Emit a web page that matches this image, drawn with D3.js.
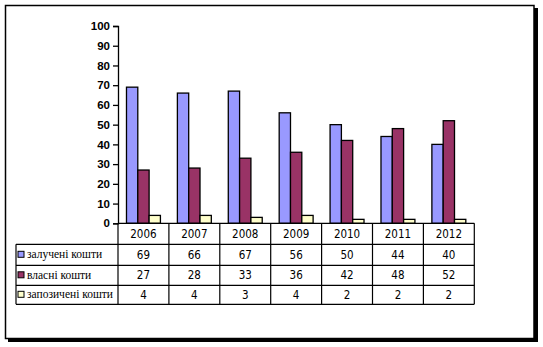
<!DOCTYPE html>
<html><head><meta charset="utf-8">
<script src="https://cdn.jsdelivr.net/npm/d3@7"></script>
<style>body{margin:0;background:#fff}svg{display:block}</style>
</head><body>
<script>
const years = ["2006","2007","2008","2009","2010","2011","2012"];
const seriesNames = ["залучені кошти","власні кошти","запозичені кошти"];
const zaluchen = [69,66,67,56,50,44,40];
const vlasni = [27,28,33,36,42,48,52];
const zapozych = [4,4,3,4,2,2,2];
const yTicks = [0,10,20,30,40,50,60,70,80,90,100];
const colors = ["#9999FF","#993366","#FFFFCC"];
const series = [zaluchen, vlasni, zapozych];

const W = 543, H = 347;
const svg = d3.select("body").append("svg").attr("width", W).attr("height", H);

// frame with shadow
svg.append("rect").attr("x", 8).attr("y", 8).attr("width", 530).attr("height", 334).attr("fill", "#000");
svg.append("rect").attr("x", 5.5).attr("y", 5.5).attr("width", 528.5).attr("height", 333).attr("fill", "#fff")
  .attr("stroke", "#000").attr("stroke-width", 1.5);

const x0 = 118, x1 = 474.3, yTop = 26, yBot = 223.3;
const x = d3.scaleBand().domain(years).range([x0, x1]).paddingInner(0).paddingOuter(0);
const y = d3.scaleLinear().domain([0, 100]).range([yBot, yTop]);
const bw = x.bandwidth() / 4.5;
const xs = d3.scaleBand().domain(d3.range(3)).range([0, bw * 3]);

const g = svg.append("g");
series.forEach((vals, si) => {
  g.selectAll(null).data(vals).enter().append("rect")
    .attr("x", (d, i) => x(years[i]) + bw * 0.75 + xs(si))
    .attr("y", d => y(d))
    .attr("width", xs.bandwidth())
    .attr("height", d => y(0) - y(d))
    .attr("fill", colors[si]).attr("stroke", "#000").attr("stroke-width", 1.3);
});

// y axis
const yAxis = d3.axisLeft(y).tickValues(yTicks).tickSize(5).tickPadding(3);
const ya = svg.append("g").attr("transform", `translate(${x0},0)`).call(yAxis);
ya.select(".domain").attr("stroke", "#000").attr("stroke-width", 1.3);
ya.selectAll(".tick line").attr("stroke", "#000").attr("stroke-width", 1.3);
ya.selectAll("text").attr("font-family", "'Liberation Sans', Arial, sans-serif")
  .attr("font-weight", "bold").attr("font-size", 11.5).attr("fill", "#000");

// data table
const rowsY = [223.3, 244.3, 265.3, 285.3, 304.3];
const tLeft = 16;
const tb = svg.append("g").attr("stroke", "#000").attr("stroke-width", 1.2);
tb.append("line").attr("x1", x0).attr("x2", x1).attr("y1", rowsY[0]).attr("y2", rowsY[0]);
for (let r = 1; r < rowsY.length; r++) {
  tb.append("line").attr("x1", tLeft).attr("x2", x1).attr("y1", rowsY[r]).attr("y2", rowsY[r]);
}
tb.append("line").attr("x1", tLeft).attr("x2", tLeft).attr("y1", rowsY[1]).attr("y2", rowsY[4]);
years.forEach(yr => {
  tb.append("line").attr("x1", x(yr)).attr("x2", x(yr)).attr("y1", rowsY[0]).attr("y2", rowsY[4]);
});
tb.append("line").attr("x1", x1).attr("x2", x1).attr("y1", rowsY[0]).attr("y2", rowsY[4]);

const numFont = "'Liberation Sans Narrow', 'DejaVu Sans Condensed', Arial, sans-serif";
svg.selectAll(null).data(years).enter().append("text")
  .attr("x", d => x(d) + x.bandwidth() / 2).attr("y", (rowsY[0] + rowsY[1]) / 2 + 4)
  .attr("text-anchor", "middle").attr("font-family", numFont).attr("font-size", 11.5)
  .text(d => d);
series.forEach((vals, si) => {
  const cy = (rowsY[si + 1] + rowsY[si + 2]) / 2;
  svg.append("rect").attr("x", 18).attr("y", cy - 3.5).attr("width", 6).attr("height", 6)
    .attr("fill", colors[si]).attr("stroke", "#000").attr("stroke-width", 1);
  svg.append("text").attr("x", 27).attr("y", cy + 3.5)
    .attr("font-family", "'Liberation Serif', 'Times New Roman', serif").attr("font-size", 11.5)
    .text(seriesNames[si]);
  svg.selectAll(null).data(vals).enter().append("text")
    .attr("x", (d, i) => x(years[i]) + x.bandwidth() / 2).attr("y", cy + 4)
    .attr("text-anchor", "middle").attr("font-family", numFont).attr("font-size", 11.5)
    .text(d => d);
});
</script>
</body></html>
